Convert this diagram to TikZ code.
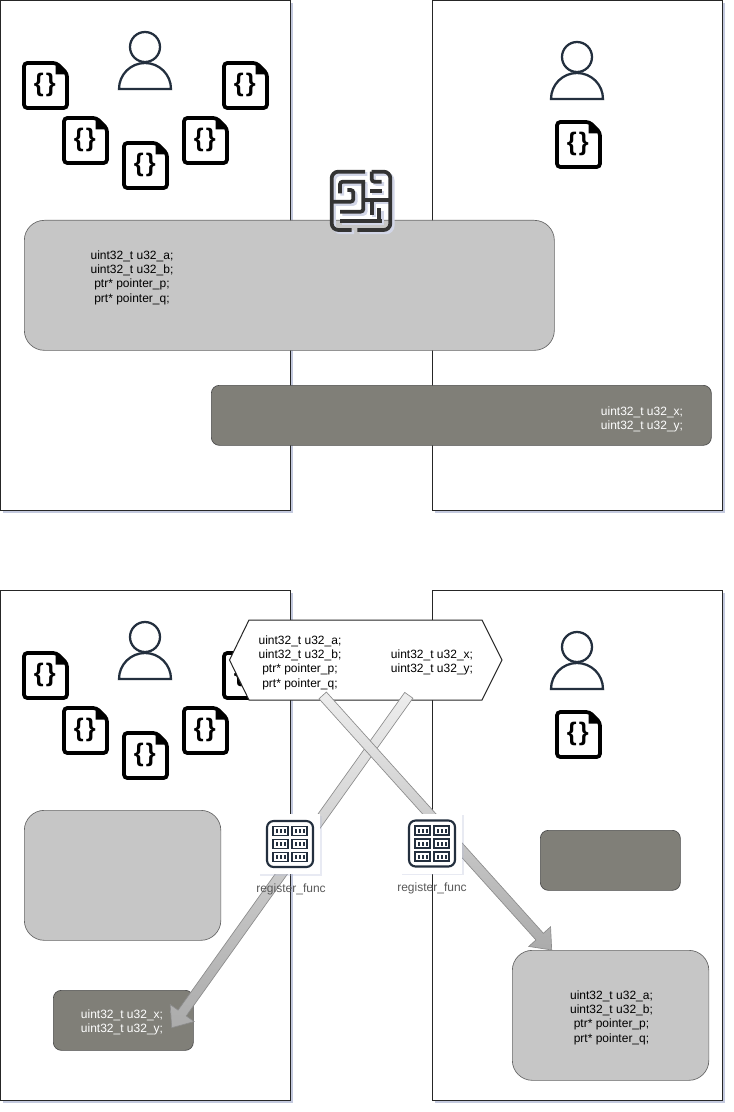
\documentclass[tikz,border=0pt]{standalone}
\usepackage{fontspec}
\setmainfont{Liberation Sans}
\usetikzlibrary{calc, shadows}

\definecolor{iconslate}{HTML}{232F3E}
\definecolor{lightfill}{HTML}{C6C6C6}
\definecolor{darkfill}{HTML}{807F78}
\definecolor{panelshade}{HTML}{B4BBD6}

\newdimen\pxunit
\pxunit=0.75pt

\tikzset{
  panel/.style={draw=black!85, fill=white, line width=0.75pt, anchor=north west, minimum width=290\pxunit, minimum height=510\pxunit, inner sep=0pt,
    drop shadow={shadow xshift=2.2pt, shadow yshift=-2.2pt, fill=panelshade, opacity=0.8}},
  lightbox/.style={draw=black!60, fill=lightfill, line width=0.5pt, rounded corners=15pt, anchor=north west, inner sep=0pt},
  darkbox/.style={draw=black!70, fill=darkfill, line width=0.5pt, rounded corners=6pt, anchor=north west, inner sep=0pt},
  codetext/.style={align=center, font=\fontsize{9}{10.8}\selectfont, inner sep=0pt},
  whitetext/.style={codetext, text=white},
  funclabel/.style={font=\fontsize{9}{10.8}\selectfont, text=black!65, inner sep=0pt},
  blockarrow/.style={draw=black!45, line width=0.5pt, top color=black!7, bottom color=black!33},
  mazeline/.style={line width=2.8pt, rounded corners=2pt},
  fileicon/.pic={
    \draw [line width=2.8pt, rounded corners=2.5pt, fill=white] (-21.5, -22.5) -- (11, -22.5) -- (21.5, -12) -- (21.5, 22.5) -- (-21.5, 22.5) -- cycle;
    \fill [black] (10, -23) -- (10, -11) -- (22, -11) -- cycle;
    \node (-brace) at (-0.7, -1) {\fontsize{19}{19}\selectfont\bfseries\{\hspace{1.5pt}\}};
  },
  personicon/.pic={
    \draw [iconslate, line width=1.7pt] (0, 0) circle (15);
    \draw [iconslate, line width=1.7pt] (-26, 42) arc [start angle=180, end angle=360, radius=26] -- cycle;
  },
  registericon/.pic={
    \fill [white, drop shadow={shadow xshift=1.2pt, shadow yshift=-1.2pt, fill=panelshade, opacity=0.3}] (-32, -30) rectangle (30, 30);
    \draw [iconslate, line width=1.6pt, rounded corners=5pt] (-23, -23) rectangle (23, 23);
    \foreach \cx in {-9.5, 9.5}
      \foreach \cy in {-13, 0, 13} {
        \draw [iconslate, line width=1pt] (\cx-7.5, \cy-4.5) rectangle (\cx+7.5, \cy+4.5);
        \foreach \dx in {-4, 0, 4}
          \fill [iconslate] (\cx+\dx-1, \cy-2) rectangle (\cx+\dx+1, \cy+2);
      }
  },
}

\newcommand{\blockarrowpath}[2]{
  \coordinate (neck) at ($(#2)!13.5pt!(#1)$);
  \path [blockarrow] ($(#1)!3.75pt!90:(#2)$) -- ($(neck)!3.75pt!90:(#2)$) -- ($(neck)!11pt!90:(#2)$) -- (#2)
    -- ($(neck)!11pt!-90:(#2)$) -- ($(neck)!3.75pt!-90:(#2)$) -- ($(#1)!3.75pt!-90:(#2)$) -- cycle;
}

\newcommand{\mazelines}[1]{
  \draw [#1, mazeline, rounded corners=5pt] (165, 35) -- (65, 35) -- (65, 210) -- (125, 210);
  \draw [#1, mazeline, rounded corners=5pt] (142, 210) -- (241, 210) -- (241, 35) -- (185, 35);
  \draw [#1, mazeline] (90, 100) -- (90, 65) -- (165, 65);
  \draw [#1, mazeline] (160, 65) -- (160, 155) -- (90, 155);
  \draw [#1, mazeline] (185, 35) -- (185, 65) -- (215, 65);
  \draw [#1, mazeline] (65, 125) -- (130, 125) -- (130, 90) -- (112, 90);
  \draw [#1, mazeline] (180, 92) -- (215, 92);
  \draw [#1, mazeline] (160, 120) -- (241, 120);
  \draw [#1, mazeline] (185, 120) -- (185, 165);
  \draw [#1, mazeline] (208, 145) -- (208, 183);
  \draw [#1, mazeline] (90, 183) -- (215, 183);
}

\begin{document}
\begin{tikzpicture}[x=0.75pt, y=-0.75pt]

\useasboundingbox (0, 0) rectangle (734, 1112);

% upper half
\node [panel] (panelul) at (0, 0) {};
\node [panel] (panelur) at (431.5, 0) {};

\pic (userul) at (145, 47) {personicon};
\pic (userur) at (577, 57) {personicon};

\pic (filea) at (45.5, 85.5) {fileicon};
\pic (fileb) at (85.5, 140.5) {fileicon};
\pic (filec) at (145.5, 165.5) {fileicon};
\pic (filed) at (205.5, 140.5) {fileicon};
\pic (filee) at (245.5, 85.5) {fileicon};
\pic (filef) at (578.5, 144.5) {fileicon};

\node [lightbox, minimum width=530\pxunit, minimum height=130\pxunit] (sharedlight) at (24, 220) {};
\node [darkbox, minimum width=500\pxunit, minimum height=60\pxunit] (shareddark) at (211, 385) {};
\node [codetext] (sharedlighttext) at (132, 277.5) {uint32\_t u32\_a;\\uint32\_t u32\_b;\\ptr* pointer\_p;\\prt* pointer\_q;};
\node [whitetext] (shareddarktext) at (642, 419.5) {uint32\_t u32\_x;\\uint32\_t u32\_y;};

% maze
\begin{scope}[shift={(310, 160)}, scale=1/3]
\begin{scope}[shift={(7, 7)}]
\mazelines{panelshade!60}
\end{scope}
\mazelines{black!80}
\end{scope}

% lower half
\node [panel] (panelll) at (0, 590) {};
\node [panel] (panellr) at (431.5, 590) {};

\pic (userll) at (145, 637) {personicon};
\pic (userlr) at (577, 647) {personicon};

\pic (fileg) at (45.5, 675.5) {fileicon};
\pic (fileh) at (85.5, 730.5) {fileicon};
\pic (filei) at (145.5, 755.5) {fileicon};
\pic (filej) at (205.5, 730.5) {fileicon};
\pic (filek) at (245.5, 675.5) {fileicon};
\pic (filel) at (578.5, 734.5) {fileicon};

\node [lightbox, minimum width=196.5\pxunit, minimum height=130\pxunit] (emptylight) at (24, 810) {};
\node [darkbox, minimum width=140\pxunit, minimum height=60\pxunit] (emptydark) at (540, 830) {};
\node [darkbox, minimum width=140\pxunit, minimum height=60\pxunit] (movedark) at (53, 990) {};
\node [lightbox, minimum width=196.5\pxunit, minimum height=130\pxunit] (movelight) at (512, 950) {};
\node [whitetext] (movedarktext) at (122, 1022.5) {uint32\_t u32\_x;\\uint32\_t u32\_y;};
\node [codetext] (movelighttext) at (611.5, 1017.5) {uint32\_t u32\_a;\\uint32\_t u32\_b;\\ptr* pointer\_p;\\prt* pointer\_q;};

\draw [black!85, line width=0.75pt, fill=white] (249, 620) -- (482, 620) -- (502, 660) -- (482, 700) -- (249, 700) -- (229.5, 660) -- cycle;
\node [codetext] (hexlefttext) at (300, 662.5) {uint32\_t u32\_a;\\uint32\_t u32\_b;\\ptr* pointer\_p;\\prt* pointer\_q;};
\node [codetext] (hexrighttext) at (432, 662.5) {uint32\_t u32\_x;\\uint32\_t u32\_y;};

\coordinate (tailx) at (408.8, 695.3);
\coordinate (tipx) at (171.7, 1027.7);
\coordinate (taila) at (322.7, 695.4);
\coordinate (tipa) at (551.7, 950);
\blockarrowpath{tailx}{tipx}
\blockarrowpath{taila}{tipa}

\pic (regleft) at (290, 844) {registericon};
\pic (regright) at (432, 843.5) {registericon};
\node [funclabel] (regleftlabel) at (291, 889.5) {register\_func};
\node [funclabel] (regrightlabel) at (432, 888) {register\_func};

\end{tikzpicture}
\end{document}
